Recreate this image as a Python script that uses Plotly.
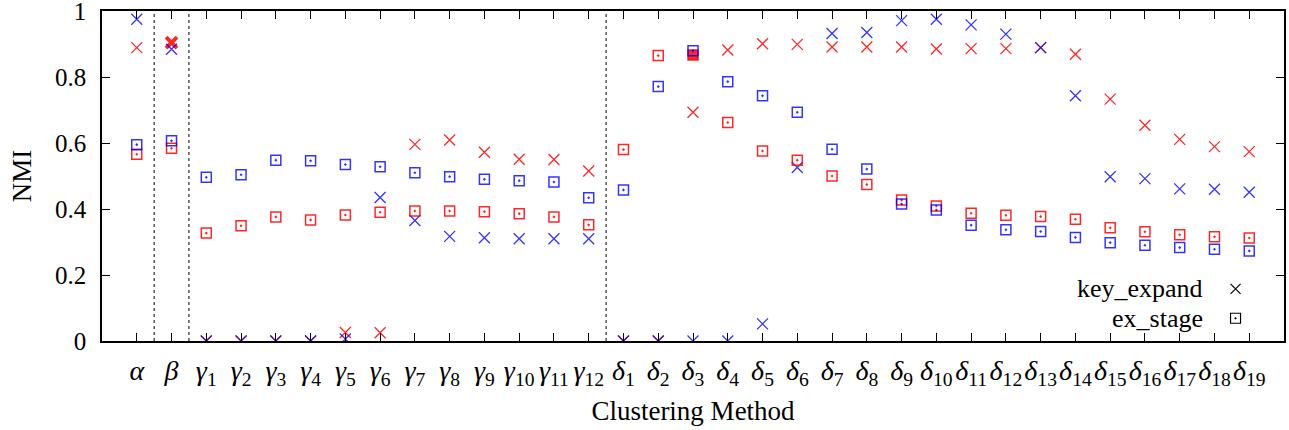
import plotly.graph_objects as go

# ---------------- data ----------------
categories = (["<i>α</i>", "<i>β</i>"]
              + [f"<i>γ</i><sub>{i}</sub>" for i in range(1, 13)]
              + [f"<i>δ</i><sub>{i}</sub>" for i in range(1, 20)])

key_expand_red = [0.889, 0.904,
                  0.0, 0.0, 0.0, 0.0, 0.026, 0.025, 0.596, 0.609, 0.572, 0.551, 0.550, 0.515,
                  0.0, 0.0, 0.693, 0.882, 0.901, 0.899, 0.891, 0.891, 0.891, 0.885,
                  0.886, 0.886, 0.889, 0.869, 0.733, 0.654, 0.611, 0.589, 0.574]
key_expand_blue = [0.975, 0.884,
                   0.0, 0.0, 0.0, 0.0, 0.006, 0.435, 0.365, 0.317, 0.313, 0.310, 0.310, 0.310,
                   0.0, 0.0, 0.0, 0.0, 0.052, 0.526, 0.932, 0.935, 0.971, 0.975,
                   0.958, 0.930, 0.889, 0.743, 0.498, 0.492, 0.461, 0.460, 0.451]
ex_stage_red = [0.566, 0.584,
                0.327, 0.349, 0.376, 0.367, 0.382, 0.390, 0.394, 0.394, 0.392, 0.386, 0.376, 0.352,
                0.580, 0.865, 0.867, 0.662, 0.576, 0.548, 0.500, 0.474, 0.427, 0.409,
                0.387, 0.381, 0.377, 0.369, 0.343, 0.331, 0.322, 0.316, 0.312]
ex_stage_blue = [0.595, 0.607,
                 0.496, 0.504, 0.548, 0.546, 0.535, 0.528, 0.510, 0.498, 0.490, 0.486, 0.482, 0.434,
                 0.458, 0.771, 0.880, 0.786, 0.743, 0.693, 0.581, 0.521, 0.415, 0.397,
                 0.351, 0.337, 0.332, 0.314, 0.298, 0.290, 0.283, 0.278, 0.273]
y_ticks = [0, 0.2, 0.4, 0.6, 0.8, 1]
y_tick_labels = ["0", "0.2", "0.4", "0.6", "0.8", "1"]
separators = [1.5, 2.5, 14.5]
legend_names = ["key_expand", "ex_stage"]

# ---------------- style ----------------
FONT = "Liberation Serif"
RED = "rgba(255,0,0,0.85)"
BLUE = "rgba(0,0,255,0.8)"
xs = list(range(1, len(categories) + 1))
X_RANGE = [0, len(categories) + 1]

fig = go.Figure()

# red crosses (beta point drawn bold as in the reference)
red_x_width = [1.3] * len(xs)
red_x_width[1] = 4
fig.add_trace(go.Scatter(
    x=xs, y=key_expand_red, mode="markers", showlegend=False,
    marker=dict(symbol="x-thin-open", size=11, color=RED,
                line=dict(color=RED, width=red_x_width))))
fig.add_trace(go.Scatter(
    x=xs, y=key_expand_blue, mode="markers", showlegend=False,
    marker=dict(symbol="x-thin-open", size=11, color=BLUE,
                line=dict(color=BLUE, width=1.3))))
# red squares (delta3 point drawn filled as in the reference)
red_sq_symbol = ["square-open-dot"] * len(xs)
red_sq_symbol[16] = "square"
fig.add_trace(go.Scatter(
    x=xs, y=ex_stage_red, mode="markers", showlegend=False,
    marker=dict(symbol=red_sq_symbol, size=10, color=RED,
                line=dict(color=RED, width=1.5))))
fig.add_trace(go.Scatter(
    x=xs, y=ex_stage_blue, mode="markers", showlegend=False,
    marker=dict(symbol="square-open-dot", size=10, color=BLUE,
                line=dict(color=BLUE, width=1.5))))

# separators
for s in separators:
    fig.add_shape(type="line", x0=s, x1=s, y0=0, y1=1, xref="x", yref="paper",
                  line=dict(color="black", width=1, dash="dot"))

# legend (text on the left, key symbol on the right, like gnuplot)
leg_key_x = 0.959
leg_text_x = 0.933
leg_y = [0.158, 0.069]
leg_symbols = ["x-thin-open", "square-open-dot"]
for name, yy, sym in zip(legend_names, leg_y, leg_symbols):
    fig.add_annotation(x=leg_text_x, y=yy, xref="paper", yref="paper",
                       text=name, showarrow=False, xanchor="right", yanchor="middle",
                       font=dict(family=FONT, size=26, color="black"))
    fig.add_trace(go.Scatter(
        x=[X_RANGE[0] + leg_key_x * (X_RANGE[1] - X_RANGE[0])], y=[yy],
        mode="markers", showlegend=False, hoverinfo="skip",
        marker=dict(symbol=sym, size=10, color="black", line=dict(color="black", width=1.2))))

fig.update_layout(
    width=1289, height=430,
    margin=dict(l=102, r=5, t=11, b=89),
    paper_bgcolor="white", plot_bgcolor="white",
    font=dict(family=FONT, size=26, color="black"),
    showlegend=False,
    xaxis=dict(range=X_RANGE, tickmode="array", tickvals=xs, ticktext=categories,
               tickfont=dict(family=FONT, size=28), tickangle=0,
               showgrid=False, zeroline=False, showline=True, linecolor="black", linewidth=1.5,
               mirror="allticks", ticks="inside", ticklen=8, tickwidth=1, tickcolor="black",
               ticklabelstandoff=4, automargin=False,
               title=dict(text="Clustering Method", font=dict(family=FONT, size=27), standoff=12)),
    yaxis=dict(range=[0, 1.0001], tickmode="array", tickvals=y_ticks, ticktext=y_tick_labels,
               tickfont=dict(family=FONT, size=25),
               showgrid=False, zeroline=False, showline=True, linecolor="black", linewidth=1.5,
               mirror="allticks", ticks="inside", ticklen=8, tickwidth=1, tickcolor="black",
               ticklabelstandoff=9, ticklabeloverflow="allow", automargin=False,
               title=dict(text="NMI", font=dict(family=FONT, size=27), standoff=16)),
)

fig.write_html("out.html", config={"displayModeBar": False},
               post_script="document.body.style.margin='0';window.dispatchEvent(new Event('resize'));")
